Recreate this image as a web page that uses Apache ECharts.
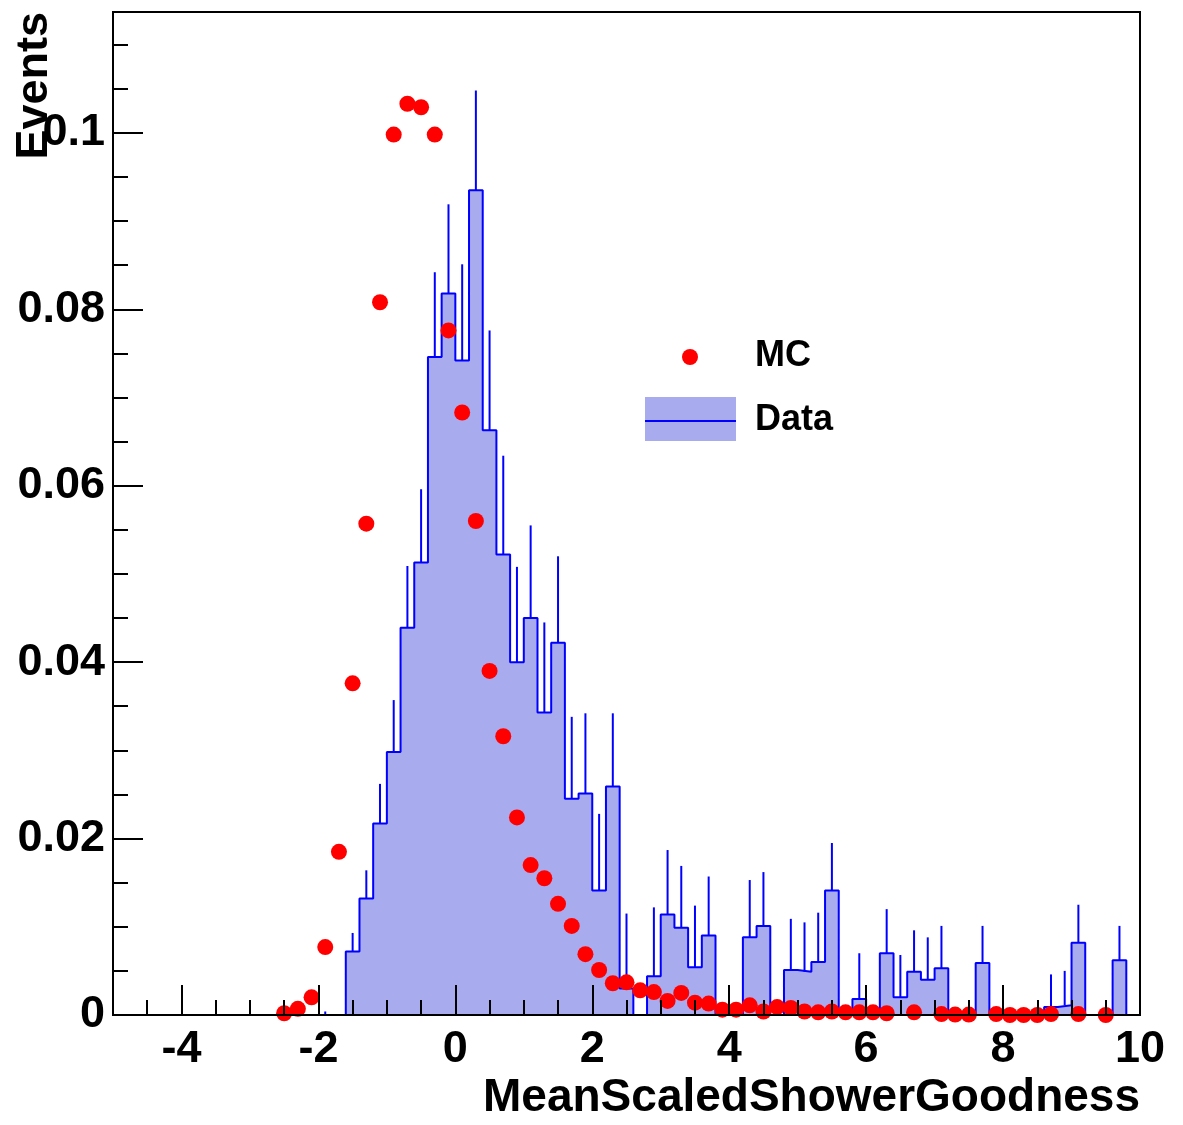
<!DOCTYPE html>
<html>
<head>
<meta charset="utf-8">
<script src="https://cdn.jsdelivr.net/npm/echarts@6/dist/echarts.min.js"></script>
<style>
  html, body { margin: 0; padding: 0; background: #fff; }
  #chart { width: 1183px; height: 1125px; }
</style>
</head>
<body>
<div id="chart"></div>
<script>
// data histogram: low edge of each 0.2 wide bin, content, upper error
var dataLow = [-2.0, -1.8, -1.6, -1.4, -1.2, -1.0, -0.8, -0.6, -0.4, -0.2,
	0.0, 0.2, 0.4, 0.6, 0.8, 1.0, 1.2, 1.4, 1.6, 1.8,
	2.0, 2.2, 2.4, 2.6, 2.8, 3.0, 3.2, 3.4, 3.6, 3.8,
	4.0, 4.2, 4.4, 4.6, 4.8, 5.0, 5.2, 5.4, 5.6, 5.8,
	6.0, 6.2, 6.4, 6.6, 6.8, 7.0, 7.2, 7.4, 7.6, 7.8,
	8.0, 8.2, 8.4, 8.6, 8.8, 9.0, 9.2, 9.4, 9.6];
var dataValue = [0, 0, 0.0072, 0.0132, 0.0217, 0.0298, 0.0439, 0.0513, 0.0746, 0.0818,
	0.0742, 0.0935, 0.0663, 0.0522, 0.0400, 0.0450, 0.0343, 0.0422, 0.0245, 0.0251,
	0.0141, 0.0259, 0.0030, 0, 0.0044, 0.0114, 0.0099, 0.0054, 0.0090, 0,
	0, 0.0088, 0.0101, 0, 0.0051, 0.0049, 0.0060, 0.0141, 0, 0.0018,
	0, 0.0070, 0.0020, 0.0049, 0.0040, 0.0053, 0, 0, 0.0059, 0,
	0, 0, 0, 0.0009, 0.0011, 0.0082, 0, 0, 0.0062];
var dataError = [0.0004, 0, 0.0021, 0.0032, 0.0045, 0.0059, 0.0070, 0.0083, 0.0096, 0.0101,
	0.0109, 0.0113, 0.0113, 0.0112, 0.0108, 0.0105, 0.0102, 0.0098, 0.0093, 0.0091,
	0.0087, 0.0083, 0.0085, 0, 0.0078, 0.0073, 0.0070, 0.0070, 0.0067, 0,
	0, 0.0065, 0.0061, 0, 0.0058, 0.0056, 0.0056, 0.0054, 0, 0.0052,
	0, 0.0050, 0.0048, 0.0047, 0.0048, 0.0048, 0, 0, 0.0042, 0,
	0, 0, 0, 0.0037, 0.0039, 0.0043, 0, 0, 0.0039];
var binWidth = 0.2;

// MC markers at bin centres (null = empty bin, not drawn)
var mcX = [-2.5, -2.3, -2.1, -1.9, -1.7, -1.5, -1.3, -1.1, -0.9, -0.7, -0.5, -0.3, -0.1,
	0.1, 0.3, 0.5, 0.7, 0.9, 1.1, 1.3, 1.5, 1.7, 1.9,
	2.1, 2.3, 2.5, 2.7, 2.9, 3.1, 3.3, 3.5, 3.7, 3.9,
	4.1, 4.3, 4.5, 4.7, 4.9, 5.1, 5.3, 5.5, 5.7, 5.9,
	6.1, 6.3, 6.5, 6.7, 6.9, 7.1, 7.3, 7.5, 7.7, 7.9,
	8.1, 8.3, 8.5, 8.7, 8.9, 9.1, 9.3, 9.5];
var mcValue = [0.0002, 0.0007, 0.0020, 0.0077, 0.0185, 0.0376, 0.0557, 0.0808, 0.0998, 0.1033, 0.1029, 0.0998, 0.0776,
	0.0683, 0.0560, 0.0390, 0.0316, 0.0224, 0.0170, 0.0155, 0.0126, 0.0101, 0.0069,
	0.0051, 0.0036, 0.0037, 0.0028, 0.0026, 0.0016, 0.0025, 0.0014, 0.0013, 0.0006,
	0.0006, 0.0011, 0.0004, 0.0009, 0.0008, 0.0004, 0.0003, 0.0004, 0.0003, 0.0003,
	0.0003, 0.0002, null, 0.0003, null, 0.0001, 0.00005, 0.00005, null, 0.0001,
	0, 0, 0, 0.0001, null, 0.0001, null, 0];

var xLabels = [-4, -2, 0, 2, 4, 6, 8, 10];
var xMin = -5, xMax = 10;
var yMin = 0, yMax = 0.1137;

var fillColor = '#a9abef';
var lineColor = '#0000ff';
var font = 'Liberation Sans, Arial, Helvetica, sans-serif';

var byId = function(id) {
	return document.getElementById(id);
};

// step outline: one point per bin low edge, closed at the last high edge
var stepData = [];
for (var i = 0; i < dataLow.length; i++) {
	stepData.push([dataLow[i], dataValue[i]]);
}
stepData.push([dataLow[dataLow.length - 1] + binWidth, 0]);

var errData = [];
for (var i = 0; i < dataLow.length; i++) {
	if (dataError[i] > 0) {
		var c = dataLow[i] + binWidth / 2;
		errData.push([c, dataValue[i], dataValue[i] + dataError[i]]);
	}
}

var mcData = [];
for (var i = 0; i < mcX.length; i++) {
	if (mcValue[i] !== null) mcData.push([mcX[i], mcValue[i]]);
}

var tickStyle = { color: '#000', width: 2 };

var option = {
	animation: false,
	backgroundColor: '#fff',
	grid: {
		left: 113,
		right: 43,
		top: 12,
		bottom: 110,
		outerBoundsMode: 'none',
		containLabel: false,
		show: true,
		borderColor: '#000',
		borderWidth: 2
	},
	xAxis: [{
		type: 'value',
		min: xMin,
		max: xMax,
		position: 'bottom',
		z: 10,
		name: 'MeanScaledShowerGoodness',
		nameLocation: 'end',
		nameGap: 0,
		nameMoveOverlap: false,
		nameTextStyle: {
			fontFamily: font,
			fontWeight: 'bold',
			fontSize: 46,
			color: '#000',
			align: 'right',
			verticalAlign: 'top',
			padding: [60, 0, 0, 0]
		},
		axisLine: { show: true, onZero: false, lineStyle: tickStyle },
		axisTick: { show: true, inside: true, length: 30, lineStyle: tickStyle, customValues: xLabels },
		axisLabel: {
			show: true,
			customValues: xLabels,
			margin: 12,
			fontFamily: font,
			fontWeight: 'bold',
			fontSize: 45,
			color: '#000'
		},
		splitLine: { show: false }
	}, {
		// minor ticks every 0.5
		type: 'value',
		min: xMin,
		max: xMax,
		interval: 0.5,
		position: 'bottom',
		z: 10,
		axisLine: { show: false, onZero: false },
		axisTick: { show: true, inside: true, length: 15, lineStyle: tickStyle },
		axisLabel: { show: false },
		splitLine: { show: false }
	}],
	yAxis: [{
		type: 'value',
		min: yMin,
		max: yMax,
		interval: 0.02,
		position: 'left',
		z: 10,
		name: 'Events',
		nameLocation: 'end',
		nameRotate: 90,
		nameGap: 0,
		nameMoveOverlap: false,
		nameTextStyle: {
			fontFamily: font,
			fontWeight: 'bold',
			fontSize: 45,
			color: '#000',
			align: 'right',
			verticalAlign: 'bottom',
			padding: [0, 0, 56, 0]
		},
		axisLine: { show: true, onZero: false, lineStyle: tickStyle },
		axisTick: { show: true, inside: true, length: 30, lineStyle: tickStyle },
		axisLabel: {
			show: true,
			showMaxLabel: false,
			margin: 8,
			fontFamily: font,
			fontWeight: 'bold',
			fontSize: 45,
			color: '#000',
			formatter: function(v) {
				return String(+v.toFixed(3));
			}
		},
		splitLine: { show: false }
	}, {
		// minor ticks every 0.005
		type: 'value',
		min: yMin,
		max: yMax,
		interval: 0.005,
		position: 'left',
		z: 10,
		axisLine: { show: false, onZero: false },
		axisTick: { show: true, inside: true, length: 15, lineStyle: tickStyle },
		axisLabel: { show: false },
		splitLine: { show: false }
	}],
	series: [{
		name: 'Data',
		type: 'line',
		step: 'end',
		xAxisIndex: 0,
		yAxisIndex: 0,
		data: stepData,
		showSymbol: false,
		symbol: 'none',
		lineStyle: { color: lineColor, width: 2 },
		itemStyle: { color: lineColor },
		areaStyle: { color: fillColor, opacity: 1 },
		z: 2
	}, {
		name: 'Data errors',
		type: 'custom',
		xAxisIndex: 0,
		yAxisIndex: 0,
		data: errData,
		renderItem: function(params, api) {
			var p1 = api.coord([api.value(0), api.value(1)]);
			var p2 = api.coord([api.value(0), api.value(2)]);
			return {
				type: 'line',
				shape: { x1: p1[0], y1: p1[1], x2: p2[0], y2: p2[1] },
				style: { stroke: lineColor, lineWidth: 2 }
			};
		},
		z: 3
	}, {
		name: 'MC',
		type: 'scatter',
		xAxisIndex: 0,
		yAxisIndex: 0,
		data: mcData,
		symbol: 'circle',
		symbolSize: 16,
		itemStyle: { color: '#ff0000', opacity: 1 },
		z: 4
	}],
	graphic: [
		{ type: 'circle', shape: { cx: 690, cy: 357, r: 8 }, style: { fill: '#ff0000' }, z: 20 },
		{ type: 'text', left: 755, top: 338, style: { text: 'MC', fontFamily: font, fontWeight: 'bold', fontSize: 36, fill: '#000' }, z: 20 },
		{ type: 'rect', shape: { x: 645, y: 397, width: 91, height: 44 }, style: { fill: fillColor }, z: 20 },
		{ type: 'line', shape: { x1: 645, y1: 421, x2: 736, y2: 421 }, style: { stroke: lineColor, lineWidth: 2 }, z: 21 },
		{ type: 'text', left: 755, top: 402, style: { text: 'Data', fontFamily: font, fontWeight: 'bold', fontSize: 36, fill: '#000' }, z: 20 }
	]
};

var chart = echarts.init(byId('chart'));
chart.setOption(option);
</script>
</body>
</html>
